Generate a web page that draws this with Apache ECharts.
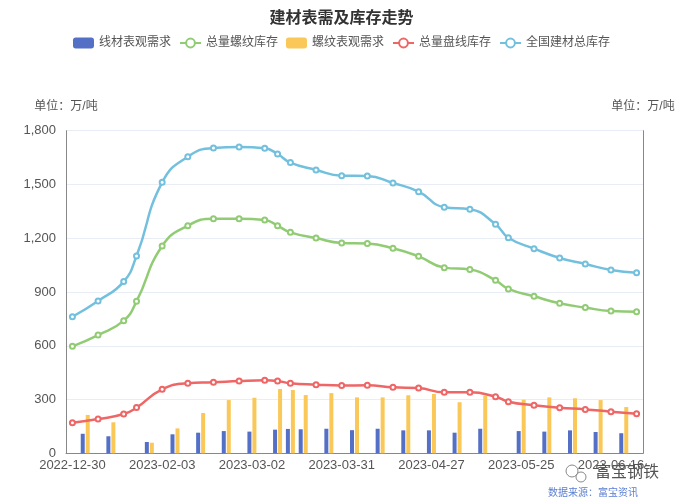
<!DOCTYPE html>
<html>
<head>
<meta charset="utf-8">
<script src="https://cdn.jsdelivr.net/npm/echarts@6/dist/echarts.min.js"></script>
<style>
html,body{margin:0;padding:0;background:#fff;}
#chart{width:683px;height:504px;}
</style>
</head>
<body>
<div id="chart"></div>
<script>
// Categories (union of inventory dates and demand dates)
const categories = [
  '2022-12-30','2023-01-05','2023-01-06','2023-01-12','2023-01-13','2023-01-20','2023-02-02','2023-02-03',
  '2023-02-09','2023-02-10','2023-02-16','2023-02-17','2023-02-23','2023-02-24','2023-03-02','2023-03-03',
  '2023-03-09','2023-03-16','2023-03-23','2023-03-24','2023-03-30','2023-03-31','2023-04-06','2023-04-07',
  '2023-04-13','2023-04-14','2023-04-20','2023-04-21','2023-04-27','2023-04-28','2023-05-04','2023-05-05',
  '2023-05-11','2023-05-12','2023-05-19','2023-05-25','2023-05-26','2023-06-01','2023-06-02','2023-06-08',
  '2023-06-09','2023-06-15','2023-06-16','2023-06-20','2023-06-21'
];
const N = null;
// 线材表观需求 (bars)
const wireDemand = [
  N,109,N,95,N,N,63,N,106,N,115,N,124,N,121,N,132,136,134,N,137,N,129,N,
  137,N,128,N,128,N,115,N,137,N,N,124,N,121,N,128,N,119,N,112,N
];
// 螺纹表观需求 (bars)
const rebarDemand = [
  N,214,N,173,N,N,59,N,139,N,225,N,297,N,310,N,359,353,325,N,336,N,312,N,
  312,N,324,N,331,N,285,N,321,N,N,299,N,312,N,307,N,297,N,258,N
];
// 总量螺纹库存
const rebarStock = [
  597,N,660,N,740,848,N,1157,N,1270,N,1309,N,1309,N,1302,1270,1233,N,1201,N,1174,N,1170,
  N,1144,N,1099,N,1036,N,1025,N,965,917,N,876,N,837,N,813,N,794,N,790
];
// 总量盘线库存
const wireStock = [
  170,N,191,N,219,255,N,357,N,391,N,396,N,403,N,407,403,391,N,383,N,378,N,379,
  N,368,N,364,N,340,N,340,N,316,288,N,268,N,254,N,245,N,232,N,221
];
// 全国建材总库存
const totalStock = [
  762,N,850,N,958,1101,N,1512,N,1655,N,1704,N,1709,N,1702,1670,1622,N,1581,N,1549,N,1547,
  N,1508,N,1460,N,1373,N,1362,N,1278,1203,N,1142,N,1090,N,1056,N,1023,N,1008
];
const yTicks = [0, 300, 600, 900, 1200, 1500, 1800];

const chart = echarts.init(document.getElementById('chart'), null, {renderer: 'canvas'});
const FONT = "'Liberation Sans', 'Noto Sans CJK SC', sans-serif";
const colors = ['#5470c6', '#91cc75', '#fac858', '#ee6666', '#73c0de'];

function lineSeries(name, data, color) {
  return {
    name: name, type: 'line', data: data, smooth: true, connectNulls: true,
    symbol: 'emptyCircle', symbolSize: 5,
    lineStyle: {width: 2.5, color: color},
    itemStyle: {color: color, borderWidth: 1.5},
    yAxisIndex: 0
  };
}
function barSeries(name, data, color) {
  return {
    name: name, type: 'bar', data: data, barWidth: 4, barGap: '25%',
    itemStyle: {color: color}, yAxisIndex: 1
  };
}

chart.setOption({
  animation: false,
  color: colors,
  textStyle: {fontFamily: FONT},
  title: {
    text: '建材表需及库存走势', left: 'center', top: 6,
    textStyle: {fontSize: 16, fontWeight: 'bold', color: '#333', fontFamily: FONT}
  },
  legend: {
    top: 32, left: 'center', itemWidth: 21, itemHeight: 11, itemGap: 8,
    textStyle: {fontSize: 12, color: '#555'},
    data: [
      {name: '线材表观需求', icon: 'roundRect'},
      {name: '总量螺纹库存'},
      {name: '螺纹表观需求', icon: 'roundRect'},
      {name: '总量盘线库存'},
      {name: '全国建材总库存'}
    ]
  },
  grid: {left: 66, right: 40, top: 130.7, bottom: 50.7, containLabel: false},
  xAxis: {
    type: 'category', data: categories, boundaryGap: true,
    axisLine: {lineStyle: {color: '#888'}},
    axisTick: {interval: 6, lineStyle: {color: '#888'}},
    axisLabel: {interval: 6, fontSize: 13, color: '#555', margin: 6}
  },
  yAxis: [
    {
      type: 'value', min: yTicks[0], max: yTicks[yTicks.length - 1], interval: 300,
      name: '单位：万/吨', nameGap: 18,
      nameTextStyle: {fontSize: 12, color: '#555'},
      axisLine: {show: true, lineStyle: {color: '#888'}},
      axisTick: {show: false},
      axisLabel: {fontSize: 13, color: '#555', margin: 10,
        formatter: v => v.toLocaleString('en-US')},
      splitLine: {lineStyle: {color: '#e8edf6'}}
    },
    {
      type: 'value', min: yTicks[0], max: yTicks[yTicks.length - 1], interval: 300,
      name: '单位：万/吨', nameGap: 18,
      nameTextStyle: {fontSize: 12, color: '#555'},
      axisLine: {show: true, lineStyle: {color: '#888'}},
      axisTick: {show: false},
      axisLabel: {show: false},
      splitLine: {show: false}
    }
  ],
  graphic: [
    {type: 'text', left: 595, top: 465, z: 100, style: {text: '富宝钢铁', fontSize: 16, fill: '#555', fontFamily: FONT}},
    {type: 'circle', z: 100, shape: {cx: 572, cy: 471, r: 6}, style: {fill: 'none', stroke: '#888', lineWidth: 1}},
    {type: 'circle', z: 100, shape: {cx: 581, cy: 477, r: 5}, style: {fill: 'none', stroke: '#888', lineWidth: 1}},
    {type: 'text', left: 548, top: 488, z: 100, style: {text: '数据来源：富宝资讯', fontSize: 10, fill: '#5b7fd1', fontFamily: FONT}}
  ],
  series: [
    barSeries('线材表观需求', wireDemand, colors[0]),
    lineSeries('总量螺纹库存', rebarStock, colors[1]),
    barSeries('螺纹表观需求', rebarDemand, colors[2]),
    lineSeries('总量盘线库存', wireStock, colors[3]),
    lineSeries('全国建材总库存', totalStock, colors[4])
  ]
});
</script>
</body>
</html>
